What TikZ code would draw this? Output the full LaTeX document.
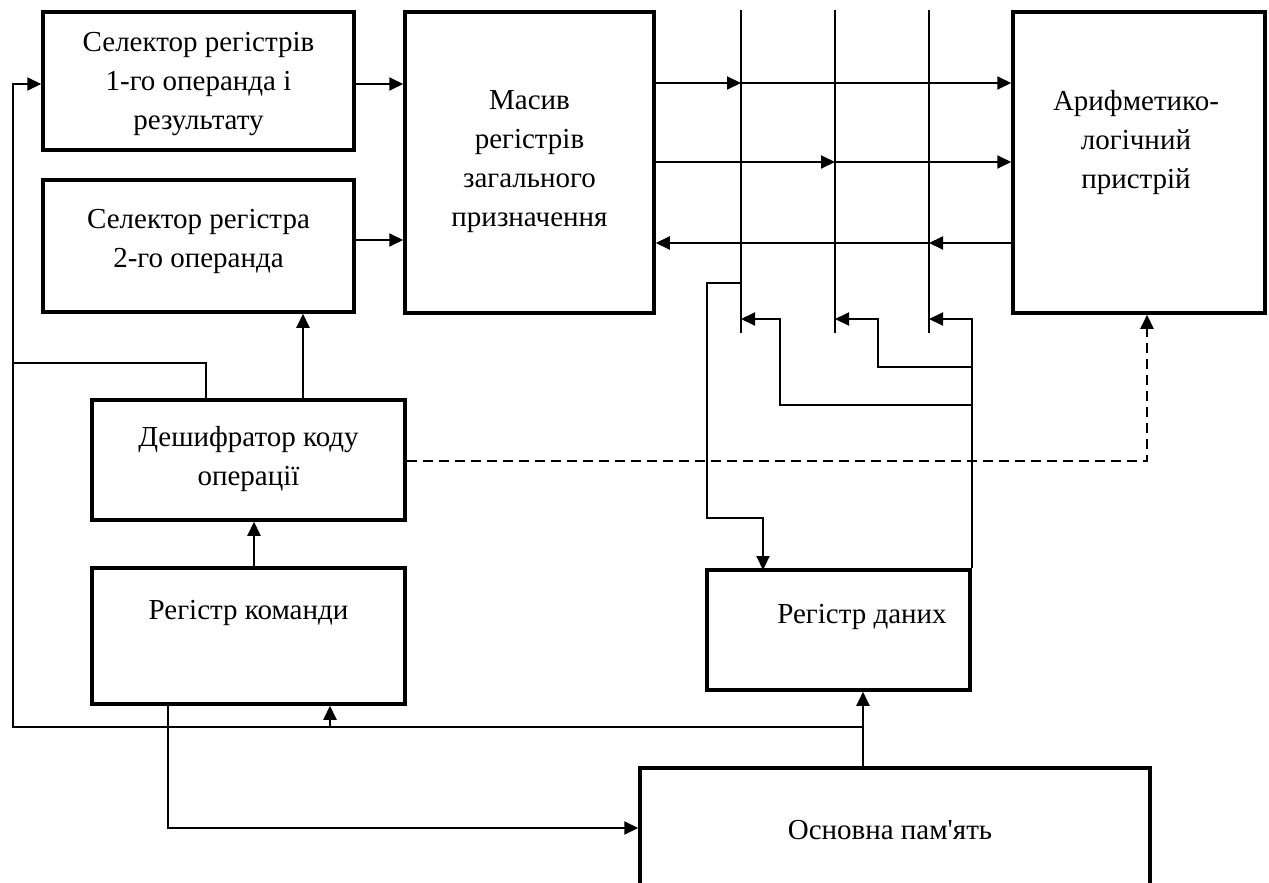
\documentclass[tikz,border=0pt]{standalone}
\usepackage{fontspec}
\setmainfont{Liberation Serif}[Ligatures=TeXOff]
\usetikzlibrary{arrows.meta}
\begin{document}
\begin{tikzpicture}[x=1pt,y=-1pt,
  box/.style={draw, line width=3.5pt, inner sep=0pt},
  txt/.style={align=center, font=\fontsize{29}{39}\selectfont, inner sep=0pt},
  wire/.style={line width=2pt},
  arr/.style={wire, -{Triangle[length=14pt,width=13pt]}},
  dash line/.style={arr, dash pattern=on 10pt off 6pt},
]
\clip (0,0) rectangle (1269,883);

% ---------- blocks ----------
\node[box, minimum width=311pt, minimum height=138pt] (A) at (198.5,81) {};
\node[txt] (At) at (198.5,84) {Селектор регістрів\\1-го операнда і\\результату};
\node[box, minimum width=249pt, minimum height=301pt] (B) at (529.5,162.5) {};
\node[txt] (Bt) at (529.5,162) {Масив\\регістрів\\загального\\призначення};
\node[box, minimum width=252pt, minimum height=301pt] (ALU) at (1139,162.5) {};
\node[txt] (ALUt) at (1136,143) {Арифметико-\\логічний\\пристрій};
\node[box, minimum width=311pt, minimum height=132pt] (C) at (198.5,246) {};
\node[txt] (Ct) at (198.5,241) {Селектор регістра\\2-го операнда};
\node[box, minimum width=313pt, minimum height=120pt] (D) at (248.5,460) {};
\node[txt] (Dt) at (248.5,459) {Дешифратор коду\\операції};
\node[box, minimum width=313pt, minimum height=136pt] (E) at (248.5,636) {};
\node[txt] (Et) at (248.5,613) {Регістр команди};
\node[box, minimum width=263pt, minimum height=120pt] (F) at (838.5,630) {};
\node[txt] (Ft) at (862,617) {Регістр даних};
\node[box, minimum width=510pt, minimum height=192pt] (G) at (895,864) {};
\node[txt] (Gt) at (890,830) {Основна пам'ять};

% ---------- internal bus ----------
\coordinate (t1) at (741,10);  \coordinate (u1) at (741,333);
\coordinate (t2) at (835,10);  \coordinate (u2) at (835,333);
\coordinate (t3) at (929,10);  \coordinate (u3) at (929,333);
\draw[wire] (t1) -- (u1);
\draw[wire] (t2) -- (u2);
\draw[wire] (t3) -- (u3);

\coordinate (r1) at (741,83);
\coordinate (r2) at (835,162);
\coordinate (r3) at (929,243);
\draw[arr] (B.east |- r1) -- (r1);
\draw[arr] (r1) -- (ALU.west |- r1);
\draw[arr] (B.east |- r2) -- (r2);
\draw[arr] (r2) -- (ALU.west |- r2);
\draw[arr] (ALU.west |- r3) -- (r3);
\draw[arr] (r3) -- (B.east |- r3);

% bus inputs fed from the data register
\coordinate (i1) at (741,319);
\coordinate (i2) at (835,319);
\coordinate (i3) at (929,319);
\coordinate (j1) at (780,405);
\coordinate (j2) at (878,367);
\draw[arr] (F.north east) |- (i3);
\draw[arr] (F.north east |- j2) -- (j2) |- (i2);
\draw[arr] (F.north east |- j1) -- (j1) |- (i1);

% bus output into the data register
\coordinate (k1) at (741,283);
\coordinate (k2) at (707,518);
\coordinate (fin) at (763,570);
\draw[arr] (k1) -- (k1 -| k2) -- (k2) -| (fin);

% ---------- selectors and decoder ----------
\draw[arr] (A.east |- 0,84) -- (B.west |- 0,84);
\draw[arr] (C.east |- 0,240) -- (B.west |- 0,240);
\draw[arr] (E.north -| 254,0) -- (D.south -| 254,0);
\draw[arr] (D.north -| 303,0) -- (C.south -| 303,0);

% ---------- memory bus ----------
\coordinate (gx) at (863,727);
\coordinate (lb) at (13,727);
\coordinate (lt) at (13,84);
\coordinate (eb) at (330,727);
\coordinate (dl) at (206,363);
\coordinate (gm) at (168,828);
\draw[arr] (G.north -| gx) -- (F.south -| gx);
\draw[arr] (gx) -- (lb) -- (lt) -- (A.west |- lt);
\draw[arr] (eb) -- (E.south -| eb);
\draw[wire] (D.north -| dl) -- (dl) -- (dl -| lt);
\draw[arr] (E.south -| gm) -- (gm) -- (G.west |- gm);

% ---------- control to ALU ----------
\coordinate (da) at (1147,461);
\draw[dash line] (D.east |- da) -- (da) -- (da |- ALU.south);
\end{tikzpicture}
\end{document}
